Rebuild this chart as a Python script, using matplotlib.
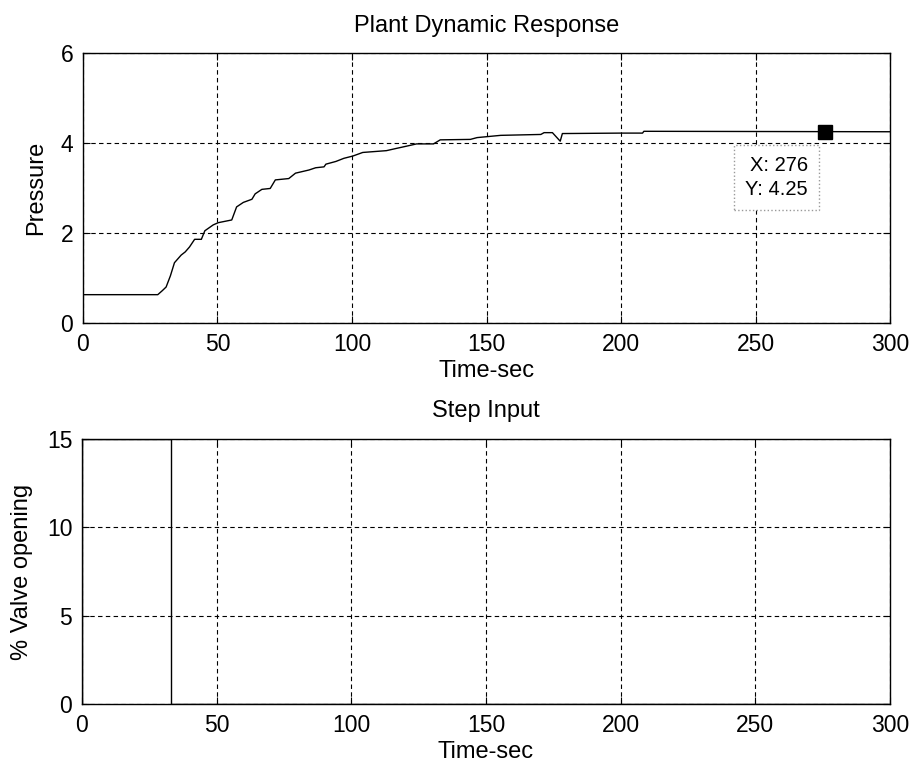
import matplotlib
matplotlib.use("Agg")
import matplotlib.pyplot as plt

plt.rcParams['font.family'] = ['Liberation Sans', 'DejaVu Sans']

# Pressure response
t_press = [0, 27.8, 29.5, 30.9, 32.5, 34, 36.5, 38, 39.6, 41.5, 44, 45.3,
           48.4, 50.3, 55.3, 57.1, 59.6, 62.8, 64, 66.5, 69.6, 71.5, 76.5,
           79, 84, 86.5, 89.6, 90.3, 94, 97, 100.3, 104, 112.8, 116.5,
           120.3, 124, 130.3, 132.8, 144, 146.5, 155.3, 170.2, 171.4, 174.5,
           177.4, 178.2, 199.9, 208, 208.5, 300]
pressure = [0.63, 0.63, 0.72, 0.80, 1.05, 1.34, 1.51, 1.58, 1.69, 1.86, 1.86,
            2.05, 2.18, 2.23, 2.29, 2.58, 2.68, 2.75, 2.87, 2.97, 2.99, 3.18,
            3.21, 3.33, 3.40, 3.45, 3.47, 3.53, 3.59, 3.66, 3.71, 3.79, 3.83,
            3.88, 3.93, 3.98, 3.98, 4.07, 4.08, 4.12, 4.17, 4.19, 4.23, 4.23,
            4.04, 4.21, 4.22, 4.22, 4.26, 4.25]

# Step input
t_step = [0, 0, 33, 33, 300]
valve = [0, 15, 15, 0, 0]

# data tip
tip_x = 276
tip_y = 4.25

fig = plt.figure(figsize=(9.15, 7.68), dpi=100)
ax1 = fig.add_axes([0.0907, 0.5794, 0.8820, 0.3516])
ax2 = fig.add_axes([0.0896, 0.0833, 0.8831, 0.3451])

grid_style = dict(color='black', linestyle=(0, (4, 3)), linewidth=0.8)

for ax in (ax1, ax2):
    ax.set_xlim(0, 300)
    ax.set_xticks([0, 50, 100, 150, 200, 250, 300])
    ax.grid(True, **grid_style)
    ax.tick_params(direction='in', length=5, top=True, right=True,
                   labelsize=16.5, pad=7)
    for s in ax.spines.values():
        s.set_linewidth(1.0)
        s.set_color('black')

# top panel
ax1.plot(t_press, pressure, color='black', linewidth=1.0, zorder=3)
ax1.set_ylim(0, 6)
ax1.set_yticks([0, 2, 4, 6])
ax1.set_title("Plant Dynamic Response", fontsize=17, pad=15)
ax1.set_xlabel("Time-sec", fontsize=17, labelpad=3)
ax1.set_ylabel("Pressure", fontsize=17, labelpad=10)

ax1.text(269.5, 3.23, "X: 276\nY: 4.25", ha='right', va='center',
         multialignment='right', fontsize=14.5, linespacing=1.35, zorder=4,
         bbox=dict(boxstyle='square,pad=0.55', facecolor='white',
                   edgecolor='#999999', linestyle=':', linewidth=1.0))
ax1.plot([tip_x], [tip_y], marker='s', markersize=10.5, color='black',
         linestyle='none', zorder=5)

# bottom panel
ax2.plot(t_step, valve, color='black', linewidth=1.0, zorder=3)
ax2.set_ylim(0, 15)
ax2.set_yticks([0, 5, 10, 15])
ax2.set_title("Step Input", fontsize=17, pad=16)
ax2.set_xlabel("Time-sec", fontsize=17, labelpad=3)
ax2.set_ylabel("% Valve opening", fontsize=17, labelpad=10)

fig.savefig("out.png", dpi=100)
